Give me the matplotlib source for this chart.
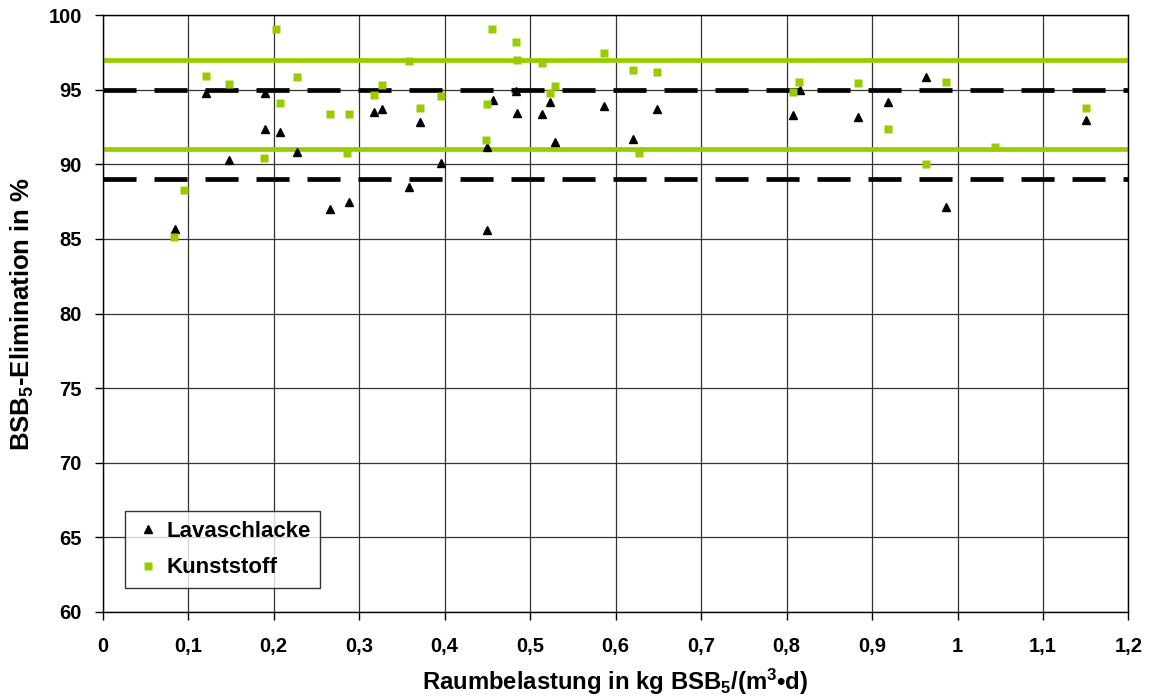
import matplotlib
matplotlib.use("Agg")
import matplotlib.pyplot as plt
from matplotlib.ticker import FuncFormatter

plt.rcParams["font.family"] = ["Liberation Sans", "DejaVu Sans"]
plt.rcParams["font.weight"] = "bold"
plt.rcParams["mathtext.fontset"] = "custom"
plt.rcParams["mathtext.rm"] = "Liberation Sans:bold"
plt.rcParams["mathtext.it"] = "Liberation Sans:bold"
plt.rcParams["mathtext.bf"] = "Liberation Sans:bold"

# Volumetric BOD5 loading (kg/(m³·d)) and BOD5 removal (%)
x_lava = [0.085, 0.121, 0.148, 0.190, 0.190, 0.207, 0.227, 0.266, 0.288,
          0.317, 0.327, 0.358, 0.371, 0.396, 0.450, 0.450, 0.457, 0.484,
          0.485, 0.514, 0.523, 0.529, 0.587, 0.620, 0.649, 0.816, 0.808,
          0.884, 0.919, 0.963, 0.987, 1.150]
y_lava = [85.7, 94.8, 90.3, 94.8, 92.4, 92.2, 90.85, 87.0, 87.45,
          93.5, 93.7, 88.5, 92.85, 90.1, 85.6, 91.2, 94.3, 94.95,
          93.45, 93.4, 94.2, 91.5, 93.95, 91.7, 93.7, 95.0, 93.3,
          93.2, 94.2, 95.85, 87.15, 92.95]

x_kunst = [0.084, 0.095, 0.121, 0.148, 0.189, 0.203, 0.207, 0.227, 0.266,
           0.288, 0.286, 0.317, 0.327, 0.358, 0.371, 0.396, 0.456, 0.484,
           0.485, 0.514, 0.529, 0.523, 0.450, 0.449, 0.587, 0.620, 0.649,
           0.627, 0.814, 0.808, 0.884, 0.919, 0.987, 0.963, 1.044, 1.150]
y_kunst = [85.1, 88.25, 95.9, 95.4, 90.4, 99.1, 94.1, 95.85, 93.35,
           93.35, 90.75, 94.65, 95.35, 96.95, 93.8, 94.6, 99.05, 98.2,
           97.0, 96.8, 95.25, 94.8, 94.05, 91.65, 97.45, 96.3, 96.2,
           90.75, 95.55, 94.85, 95.45, 92.35, 95.55, 90.05, 91.2, 93.75]

# Band limits for each carrier material
lava_limits = [89, 95]
kunst_limits = [91, 97]

series_names = ["Lavaschlacke", "Kunststoff"]
x_ticks = [0, 0.1, 0.2, 0.3, 0.4, 0.5, 0.6, 0.7, 0.8, 0.9, 1.0, 1.1, 1.2]
y_ticks = [60, 65, 70, 75, 80, 85, 90, 95, 100]

green = "#99CC00"

fig = plt.figure(figsize=(11.52, 6.99), dpi=100)
ax = fig.add_axes([0.0891, 0.1249, 0.8905, 0.8532])

for v in kunst_limits:
    ax.axhline(v, color=green, lw=3.4, zorder=2)
for v in lava_limits:
    ax.axhline(v, color="black", lw=3.4, dashes=(7.0, 3.8), zorder=2.1)

ax.plot(x_lava, y_lava, linestyle="none", marker="^", ms=6.4,
        color="black", label=series_names[0], zorder=3)
ax.plot(x_kunst, y_kunst, linestyle="none", marker="s", ms=6.4,
        color=green, mec="none", label=series_names[1], zorder=4)

ax.set_xlim(x_ticks[0], x_ticks[-1])
ax.set_ylim(y_ticks[0], y_ticks[-1])
ax.set_xticks(x_ticks)
ax.set_yticks(y_ticks)
ax.xaxis.set_major_formatter(FuncFormatter(lambda v, p: f"{v:g}".replace(".", ",")))
ax.yaxis.set_major_formatter(FuncFormatter(lambda v, p: f"{v:g}"))
ax.grid(True, color="#333333", lw=0.9, zorder=1)
ax.set_axisbelow(True)
for s in ax.spines.values():
    s.set_color("black")
    s.set_linewidth(1.0)

ax.tick_params(axis="both", direction="out", length=6, width=1.0,
               labelsize=14.5)
ax.tick_params(axis="x", pad=12)
ax.tick_params(axis="y", pad=9)

ax.set_xlabel("Raumbelastung in kg BSB$_5$/(m$^3$•d)", fontsize=17.2,
              fontweight="bold", labelpad=8)
ax.set_ylabel("BSB$_5$-Elimination in %", fontsize=18.5, fontweight="bold",
              labelpad=9)

leg = ax.legend(loc="lower left", bbox_to_anchor=(0.0217, 0.039),
                borderaxespad=0, fontsize=16, frameon=True, fancybox=False,
                edgecolor="black", handlelength=1.2, handletextpad=0.2,
                borderpad=0.45, labelspacing=0.7, markerscale=0.95)
leg.get_frame().set_linewidth(1.0)

fig.savefig("out.png", dpi=100, facecolor="white")
